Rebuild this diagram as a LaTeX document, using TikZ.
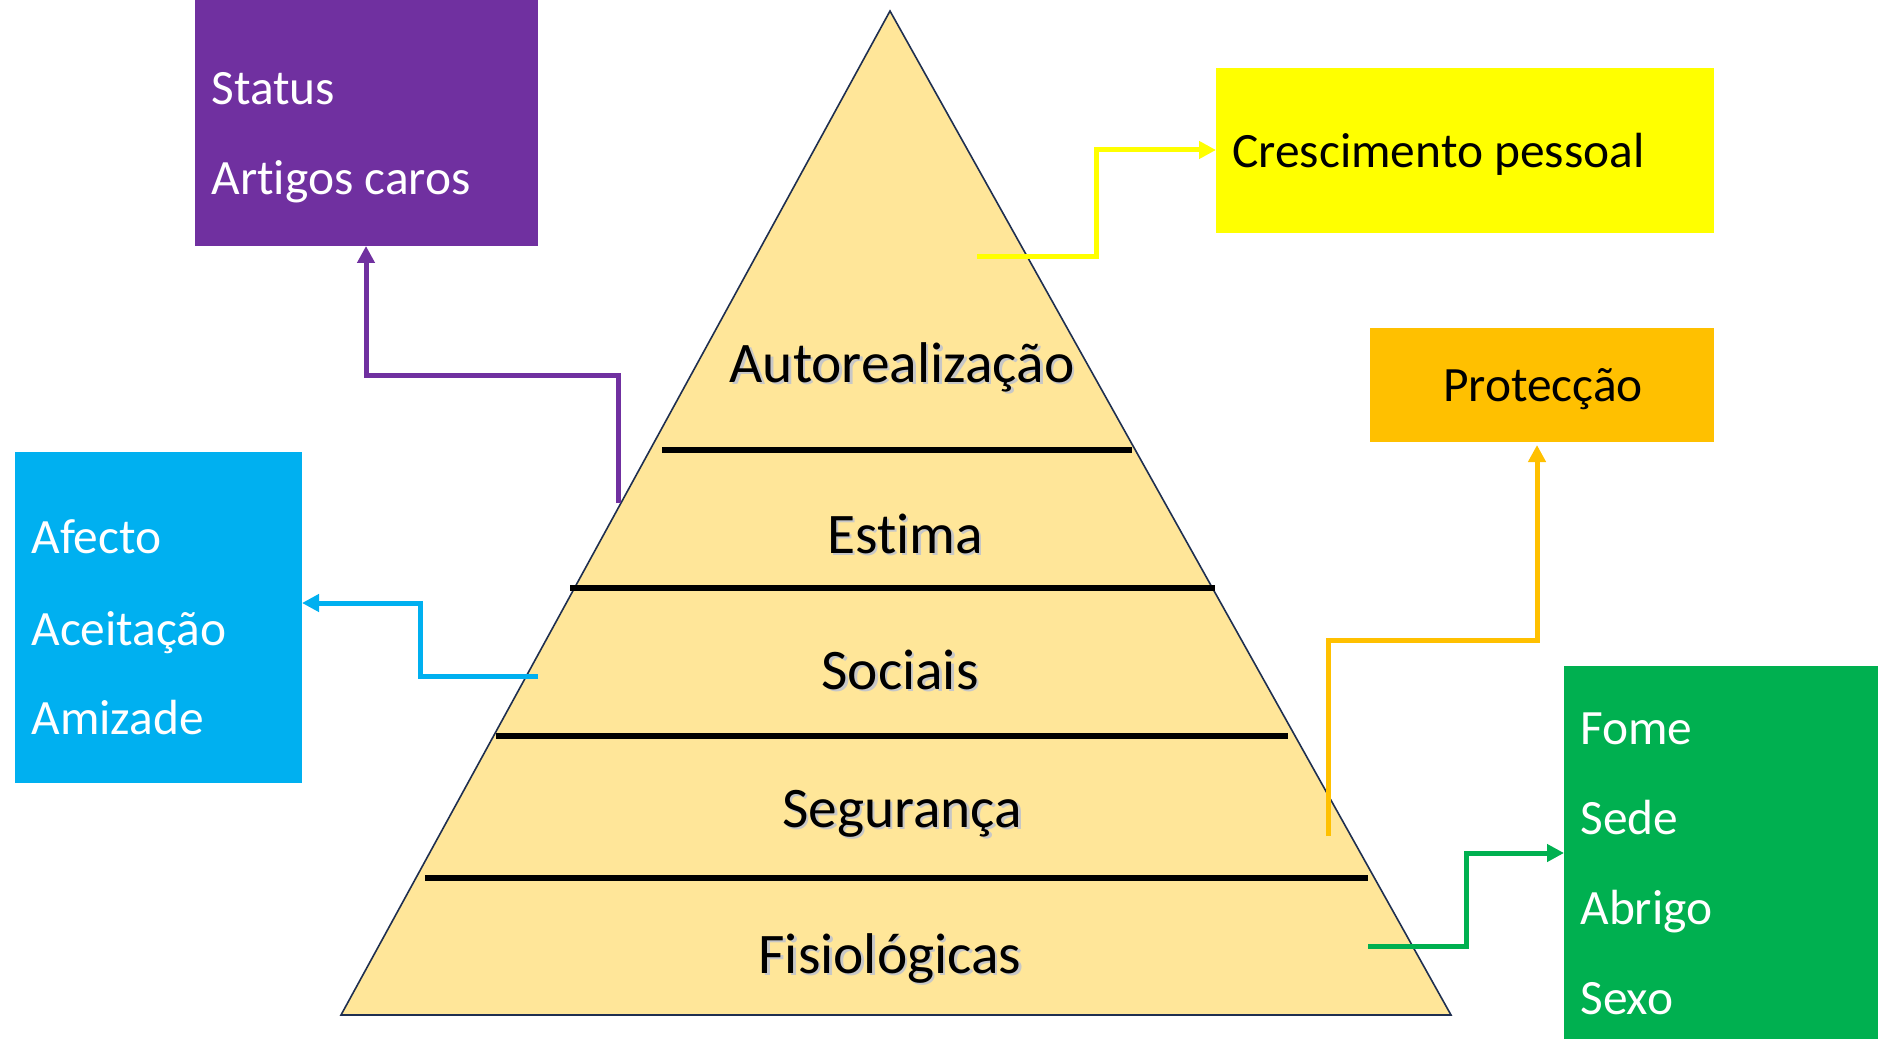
\documentclass[tikz,border=0pt]{standalone}
\usepackage{fontspec}
\setmainfont{Carlito}[Ligatures=NoCommon]
\usetikzlibrary{arrows.meta}
\definecolor{cpurple}{HTML}{7030A0}
\definecolor{cyellow}{HTML}{FFFF00}
\definecolor{corange}{HTML}{FFC000}
\definecolor{cblue}{HTML}{00B0F0}
\definecolor{cgreen}{HTML}{00B050}
\definecolor{pyrfill}{HTML}{FFE699}
\definecolor{pyrline}{HTML}{1F2F50}
\newcommand{\shtext}[1]{\rlap{\hspace{1.3pt}\raisebox{-1.3pt}{\textcolor{black!22}{#1}}}#1}
\tikzset{
  box/.style={rectangle, inner sep=0pt, outer sep=0pt, draw=none},
  boxtext/.style={anchor=base west, inner sep=0pt, font=\fontsize{24.7}{30}\selectfont},
  pyrlabel/.style={anchor=base, inner sep=0pt, font=\fontsize{28.7}{34}\selectfont},
  divider/.style={line width=3pt, black},
  conn/.style={line width=2.5pt, -{Triangle[length=8.5pt, width=8.5pt]}},
}
\begin{document}
\begin{tikzpicture}[x=0.5pt, y=-0.5pt]
\useasboundingbox (0,0) rectangle (1878,1059);
\fill[white] (0,0) rectangle (1878,1059);

% pyramid
\draw[fill=pyrfill, draw=pyrline, line width=0.8pt, line join=miter] (341,1015) -- (1451,1015) -- (890,11) -- cycle;
\draw[divider] (662,450) -- (1132,450);
\draw[divider] (570,588) -- (1215,588);
\draw[divider] (496,736) -- (1288,736);
\draw[divider] (425,878) -- (1368,878);

\node[pyrlabel] (l1) at (902,382) {\shtext{Autorealização}};
\node[pyrlabel] (l2) at (905,553) {\shtext{Estima}};
\node[pyrlabel] (l3) at (900,689) {\shtext{Sociais}};
\node[pyrlabel] (l4) at (902,827) {\shtext{Segurança}};
\node[pyrlabel] (l5) at (890,973) {\shtext{Fisiológicas}};

% boxes
\node[box, fill=cpurple, minimum width=171.5pt, minimum height=123pt] (pbox) at (366.5,123) {};
\node[box, fill=cyellow, minimum width=249pt, minimum height=82.5pt] (ybox) at (1465,150.5) {};
\node[box, fill=corange, minimum width=172pt, minimum height=57pt] (obox) at (1542,385) {};
\node[box, fill=cblue, minimum width=143.5pt, minimum height=165.5pt] (bbox) at (158.5,617.5) {};
\node[box, fill=cgreen, minimum width=157pt, minimum height=186.5pt] (gbox) at (1721,852.5) {};

% box texts
\node[boxtext, white] (t1) at (211,105) {Status};
\node[boxtext, white] (t2) at (211,195) {Artigos caros};
\node[boxtext, black] (t3) at (1232,168) {Crescimento pessoal};
\node[boxtext, black, anchor=base] (t4) at (1543,401) {Protecção};
\node[boxtext, white] (t5) at (31,553) {Afecto};
\node[boxtext, white] (t6) at (31,645) {Aceitação};
\node[boxtext, white] (t7) at (31,734) {Amizade};
\node[boxtext, white] (t8) at (1580,744) {Fome};
\node[boxtext, white] (t9) at (1580,834) {Sede};
\node[boxtext, white] (t10) at (1580,924) {Abrigo};
\node[boxtext, white] (t11) at (1580,1014) {Sexo};

% connector coordinates
\coordinate (ps) at (618,503);
\coordinate (pk) at (366,375);
\coordinate (bs) at (538,676);
\coordinate (bk) at (420,603);
\coordinate (ys) at (977,257);
\coordinate (yk) at (1096,150);
\coordinate (os) at (1328,836);
\coordinate (ok) at (1537,640);
\coordinate (gs) at (1368,946);
\coordinate (gk) at (1466,853);

% connectors
\draw[conn, cpurple] (ps) |- (pk) -- (pk |- pbox.south);
\draw[conn, cblue] (bs) -| (bk) -- (bk -| bbox.east);
\draw[conn, cyellow] (ys) -| (yk) -- (yk -| ybox.west);
\draw[conn, corange] (os) |- (ok) -- ([yshift=-1.5pt]ok |- obox.south);
\draw[conn, cgreen] (gs) -| (gk) -- (gk -| gbox.west);
\end{tikzpicture}
\end{document}
